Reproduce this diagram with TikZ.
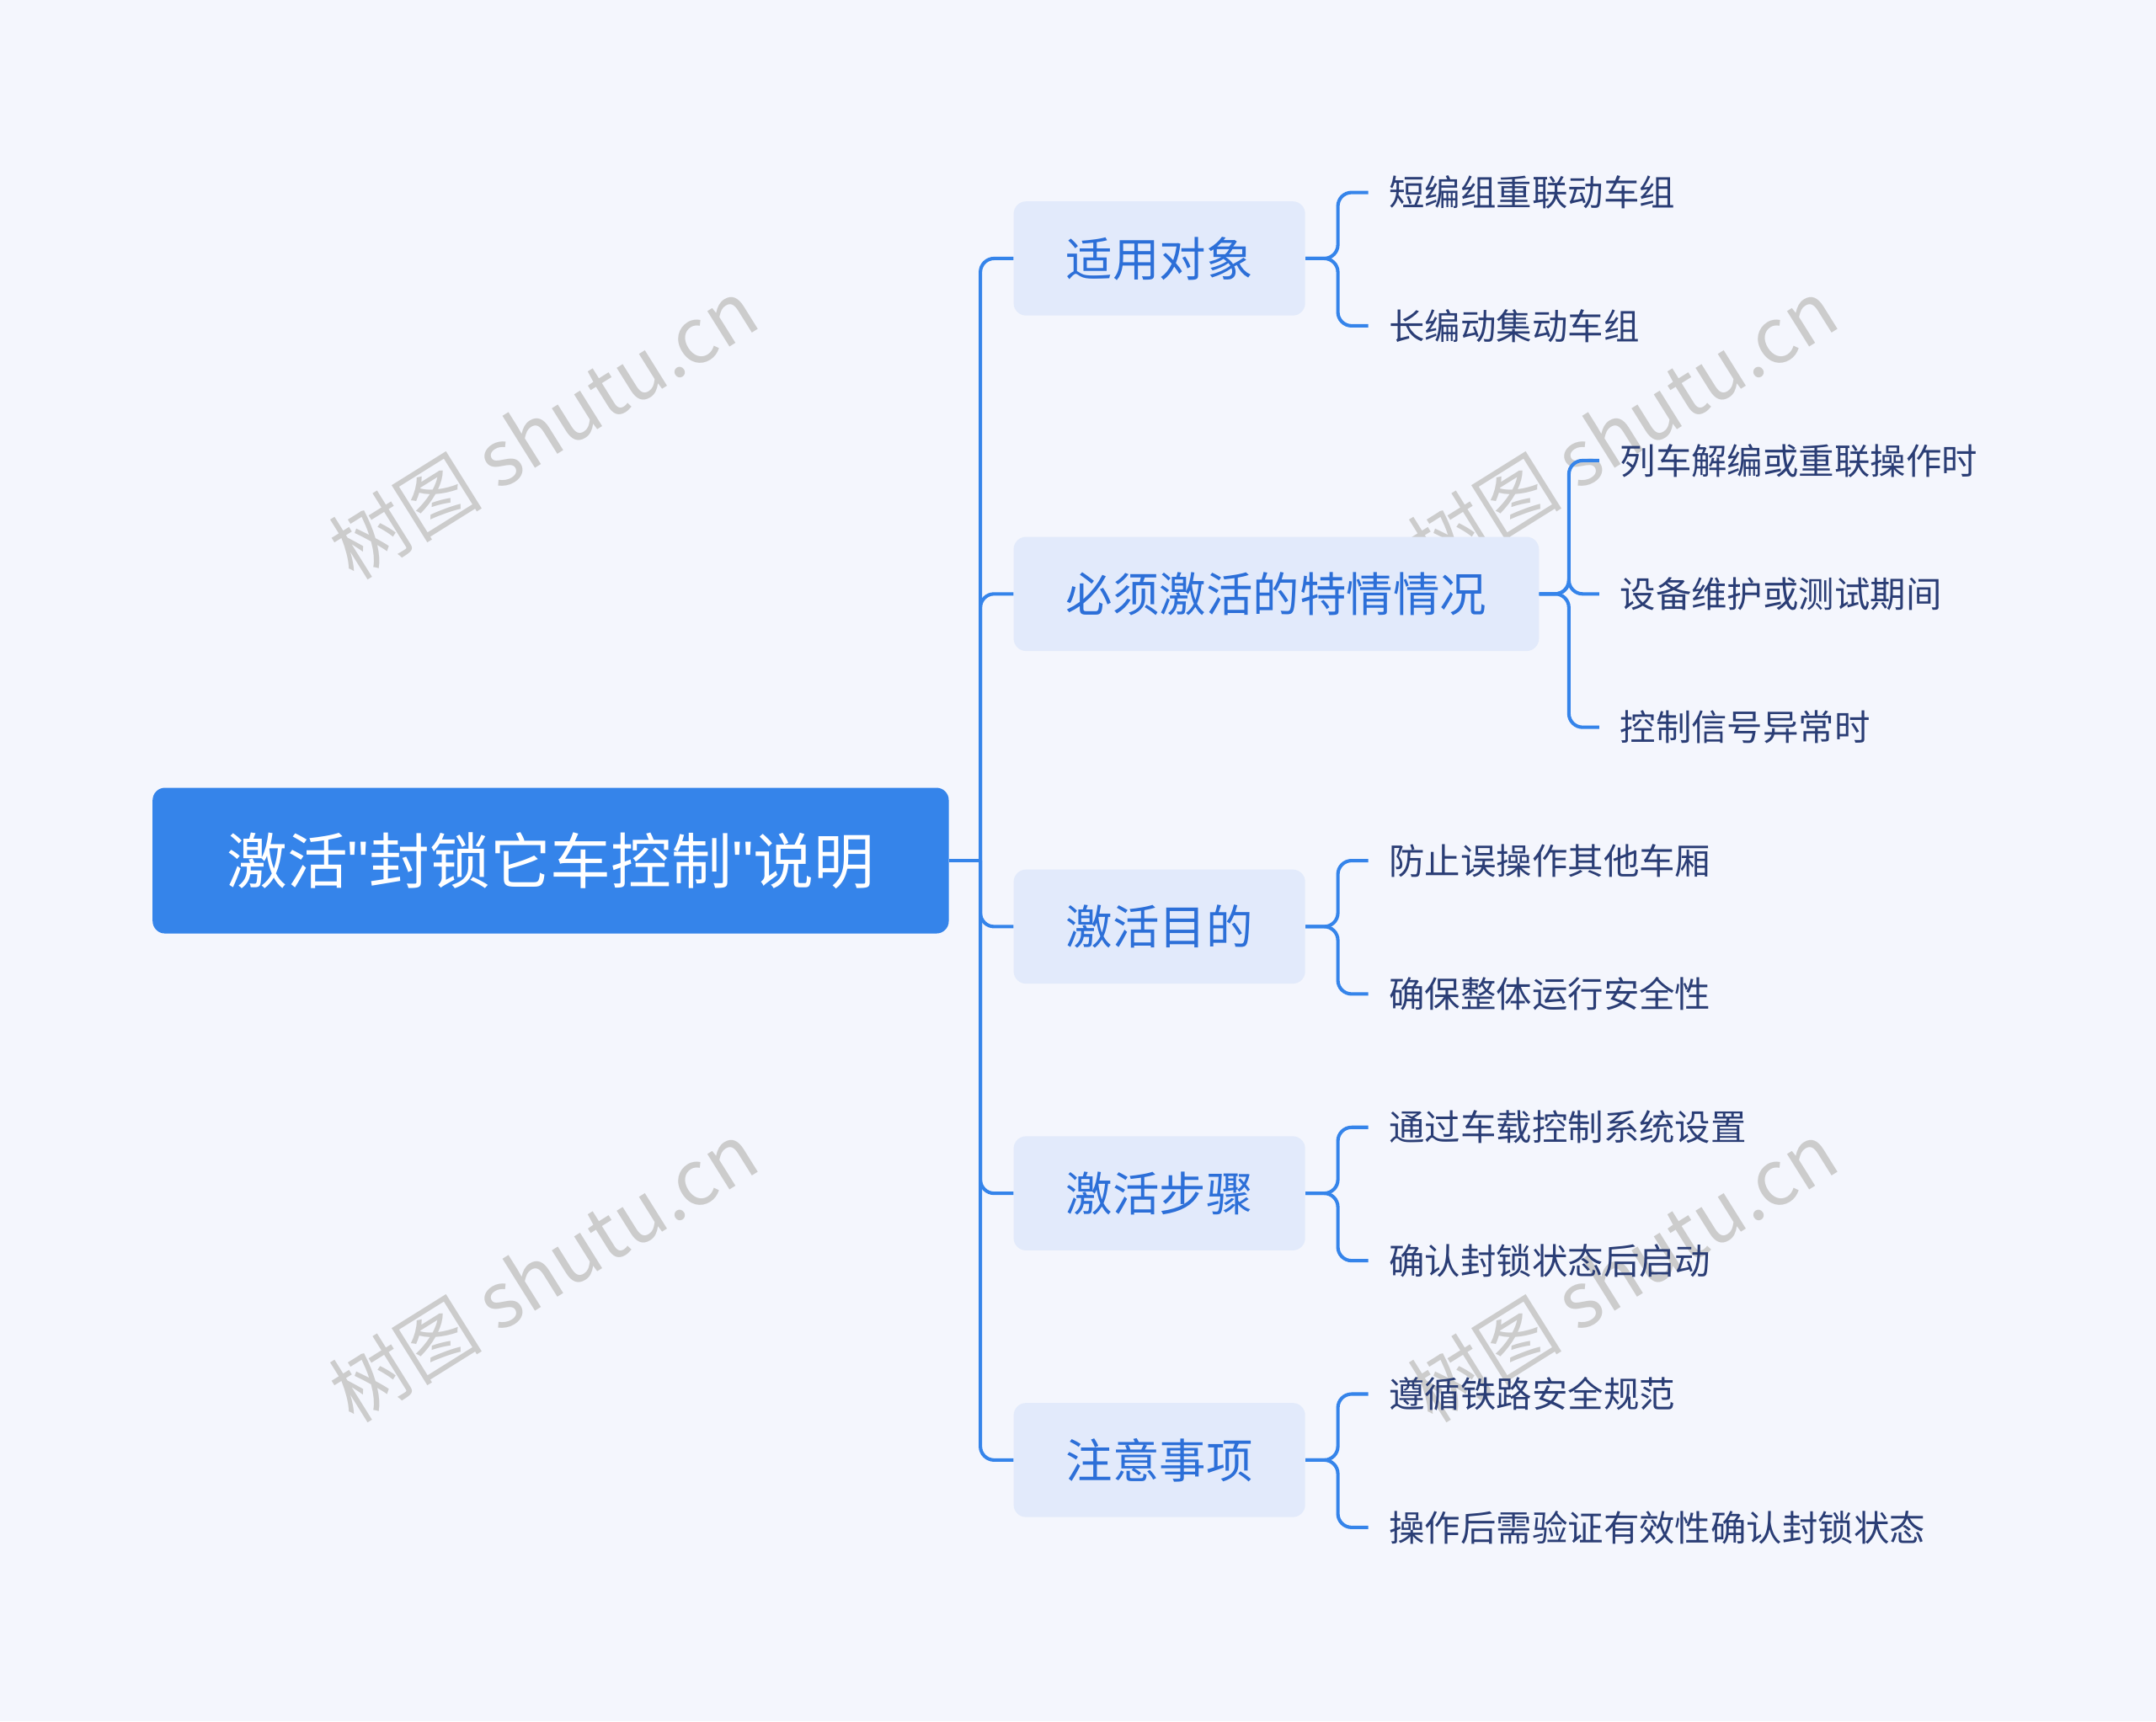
\documentclass[tikz,border=0pt]{standalone}
\usepackage{fontspec}
\setmainfont{Noto Sans CJK SC}
\newfontfamily\quotefont{Liberation Sans}
\newcommand{\sq}{{\quotefont\symbol{34}}}
\definecolor{bg}{HTML}{F4F6FD}
\definecolor{rootc}{HTML}{3584EA}
\definecolor{lvl}{HTML}{E2EAFB}
\definecolor{lvltext}{HTML}{2C6FD8}
\definecolor{leaftext}{HTML}{2A3D75}
\definecolor{line}{HTML}{3584EA}
\begin{document}
\begin{tikzpicture}[x=1pt,y=-1pt,
  rootbox/.style={fill=rootc,rounded corners=9pt,text=white,font=\fontsize{44}{50}\selectfont,minimum width=579pt,minimum height=106pt,inner sep=0pt},
  lvlbox/.style={fill=lvl,rounded corners=9pt,text=lvltext,font=\fontsize{34}{38}\selectfont,minimum height=83pt,inner xsep=38pt,anchor=west},
  leaf/.style={text=leaftext,font=\fontsize{26}{30}\selectfont,anchor=west,inner xsep=15pt,inner ysep=0pt},
  conn/.style={draw=line,line width=2.5pt,rounded corners=10pt},
  wm/.style={text=gray!40,font=\fontsize{56}{60}\selectfont,rotate=32}]
\fill[bg] (0,0) rectangle (1568,1252);
\useasboundingbox (0,0) rectangle (1568,1252);
\node[wm] at (395,312) {树图 shutu.cn};
\node[wm] at (1180,312) {树图 shutu.cn};
\node[wm] at (395,925) {树图 shutu.cn};
\node[wm] at (1180,925) {树图 shutu.cn};

\node[rootbox] (root) at (400.5,626) {激活\sq 封锁它车控制\sq 说明};
\node[lvlbox] (a) at (737,188) {适用对象};
\node[lvlbox] (b) at (737,432) {必须激活的特情情况};
\node[lvlbox] (c) at (737,674) {激活目的};
\node[lvlbox] (d) at (737,868) {激活步骤};
\node[lvlbox] (e) at (737,1062) {注意事项};

\node[leaf] (a1) at (995,140) {短编组重联动车组};
\node[leaf] (a2) at (995,237) {长编动集动车组};
\node[leaf] (b1) at (1163,335) {列车解编或重联操作时};
\node[leaf] (b2) at (1163,432) {设备维护或测试期间};
\node[leaf] (b3) at (1163,529) {控制信号异常时};
\node[leaf] (c1) at (995,626) {防止误操作其他车厢};
\node[leaf] (c2) at (995,723) {确保整体运行安全性};
\node[leaf] (d1) at (995,820) {通过车载控制系统设置};
\node[leaf] (d2) at (995,917) {确认封锁状态后启动};
\node[leaf] (e1) at (995,1014) {遵循铁路安全规范};
\node[leaf] (e2) at (995,1111) {操作后需验证有效性确认封锁状态};

\draw[conn] (root.east) -- (713,626);
\foreach \n in {a,b,c,d,e}{\draw[conn] (713,626) |- (\n.west);}
\foreach \p/\l in {a/a1,a/a2,c/c1,c/c2,d/d1,d/d2,e/e1,e/e2}{\draw[conn] (\p.east) -| ([xshift=-22pt]\l.west) -- (\l.west);}
\foreach \l in {b1,b2,b3}{\draw[conn] (b.east) -| ([xshift=-22pt]\l.west) -- (\l.west);}
\end{tikzpicture}
\end{document}
